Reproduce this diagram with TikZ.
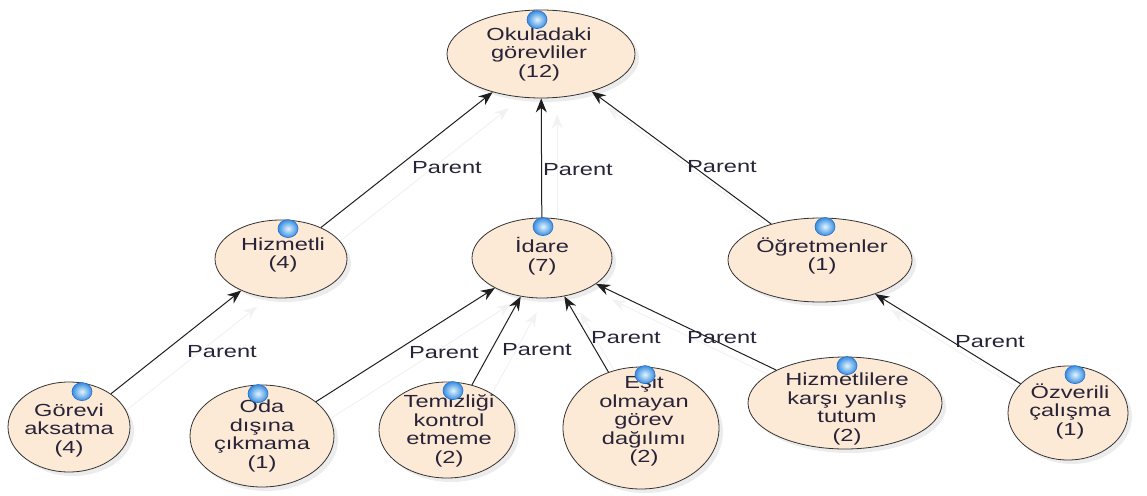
\documentclass[tikz,border=0pt]{standalone}
\usepackage{fontspec}
\setmainfont{Liberation Sans}[FakeStretch=1.35]
\usetikzlibrary{shapes.geometric,arrows.meta,shadows}
\definecolor{peach}{RGB}{252,233,214}
\definecolor{txt}{RGB}{40,36,56}
\definecolor{edgec}{RGB}{30,30,30}
\definecolor{iconin}{RGB}{225,245,255}
\definecolor{iconout}{RGB}{55,140,225}
\definecolor{iconrim}{RGB}{40,110,200}
\pgfdeclarelayer{background}
\pgfsetlayers{background,main}
\newcommand\ballicon[3]{\shade[inner color=iconin, outer color=iconout, draw=iconrim, line width=0.6pt] ([shift={(#2,#3)}]#1.north) ellipse [x radius=10pt, y radius=9pt];}
\begin{document}
\begin{tikzpicture}[x=1pt,y=-1pt,
  concept/.style={ellipse, draw=black!80, line width=0.8pt, fill=peach, inner sep=0pt,
    drop shadow={opacity=0.15, shadow xshift=4pt, shadow yshift=-4pt}},
  ctext/.style={align=center, text=txt, inner sep=0pt, font=\fontsize{17.5}{18.5}\selectfont},
  lbl/.style={text=txt, inner sep=0pt, font=\fontsize{17.5}{18.5}\selectfont},
  edge/.style={draw=edgec, line width=1pt, -{Stealth[length=14pt,width=11pt]}},
  ghost/.style={draw=black!5, line width=1pt, -{Stealth[length=14pt,width=11pt]},
    transform canvas={shift={(16pt,-16pt)}}}
]
\useasboundingbox (0,0) rectangle (1147,495);

% concept ellipses
\node[concept, minimum width=188pt, minimum height=88pt] (okul) at (541,54) {};
\node[concept, minimum width=132pt, minimum height=78pt] (hiz) at (281,259) {};
\node[concept, minimum width=140pt, minimum height=80pt] (idare) at (542,258) {};
\node[concept, minimum width=184pt, minimum height=84pt] (ogr) at (820,260) {};
\node[concept, minimum width=122pt, minimum height=90pt] (gor) at (69,427) {};
\node[concept, minimum width=144pt, minimum height=102pt] (oda) at (262,436) {};
\node[concept, minimum width=136pt, minimum height=96pt] (tem) at (447,430) {};
\node[concept, minimum width=156pt, minimum height=122pt] (esit) at (641,428) {};
\node[concept, minimum width=194pt, minimum height=92pt] (hizk) at (845,403) {};
\node[concept, minimum width=120pt, minimum height=94pt] (ozv) at (1068,413) {};

% texts
\node[ctext] (okul-t) at (539,54) {Okuladaki\\görevliler\\(12)};
\node[ctext] (hiz-t) at (283,255) {Hizmetli\\(4)};
\node[ctext] (idare-t) at (542,256) {İdare\\(7)};
\node[ctext] (ogr-t) at (822,256) {Öğretmenler\\(1)};
\node[ctext] (gor-t) at (69,430) {Görevi\\aksatma\\(4)};
\node[ctext] (oda-t) at (262,436) {Oda\\dışına\\çıkmama\\(1)};
\node[ctext] (tem-t) at (449,431) {Temizliği\\kontrol\\etmeme\\(2)};
\node[ctext] (esit-t) at (644,421) {Eşit\\olmayan\\görev\\dağılımı\\(2)};
\node[ctext] (hizk-t) at (847,409) {Hizmetlilere\\karşı yanlış\\tutum\\(2)};
\node[ctext] (ozv-t) at (1070,411) {Özverili\\çalışma\\(1)};

% icons
\ballicon{okul}{-4}{10}
\ballicon{hiz}{7}{9}
\ballicon{idare}{1}{9}
\ballicon{ogr}{5}{9}
\ballicon{gor}{13}{10}
\ballicon{oda}{-4}{9}
\ballicon{tem}{6}{9}
\ballicon{esit}{4}{8}
\ballicon{hizk}{2}{9}
\ballicon{ozv}{7}{9}

% ghost shadows of connectors
\begin{pgfonlayer}{background}
\draw[ghost] (hiz) -- (okul);
\draw[ghost] (idare) -- (okul);
\draw[ghost] (ogr) -- (okul);
\draw[ghost] (gor) -- (hiz);
\draw[ghost] (oda) -- (idare);
\draw[ghost] (tem) -- (idare);
\draw[ghost] (esit) -- (idare);
\draw[ghost] (hizk) -- (idare);
\draw[ghost] (ozv) -- (ogr);
\end{pgfonlayer}

% connectors
\draw[edge] (hiz) -- (okul);
\draw[edge] (idare) -- (okul);
\draw[edge] (ogr) -- (okul);
\draw[edge] (gor) -- (hiz);
\draw[edge] (oda) -- (idare);
\draw[edge] (tem) -- (idare);
\draw[edge] (esit) -- (idare);
\draw[edge] (hizk) -- (idare);
\draw[edge] (ozv) -- (ogr);

% labels
\node[lbl] (l1) at (447,168) {Parent};
\node[lbl] (l2) at (578,170) {Parent};
\node[lbl] (l3) at (722,167) {Parent};
\node[lbl] (l4) at (222,352) {Parent};
\node[lbl] (l5) at (444,353) {Parent};
\node[lbl] (l6) at (537,350) {Parent};
\node[lbl] (l7) at (626,338) {Parent};
\node[lbl] (l8) at (722,338) {Parent};
\node[lbl] (l9) at (990,342) {Parent};
\end{tikzpicture}
\end{document}
